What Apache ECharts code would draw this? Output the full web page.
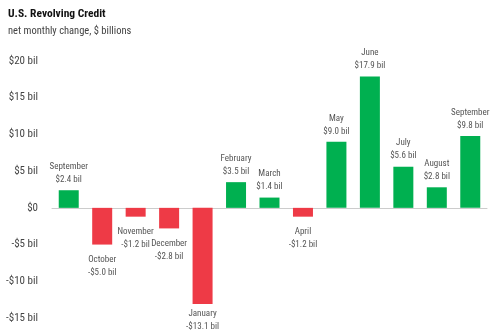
<!DOCTYPE html>
<html>
<head>
<meta charset="utf-8">
<script src="https://cdn.jsdelivr.net/npm/echarts@6/dist/echarts.min.js"></script>
<style>
  html, body { margin: 0; padding: 0; background: #fff; }
  #chart { width: 500px; height: 332px; }
</style>
</head>
<body>
<div id="chart"></div>
<script>
// Monthly net change in U.S. revolving credit, $ billions
const months = ['September', 'October', 'November', 'December', 'January', 'February',
  'March', 'April', 'May', 'June', 'July', 'August', 'September'];
const changes = [2.4, -5.0, -1.2, -2.8, -13.1, 3.5, 1.4, -1.2, 9.0, 17.9, 5.6, 2.8, 9.8];
const yTicks = [-15, -10, -5, 0, 5, 10, 15, 20];

const GREEN = '#00b050';
const RED = '#ee3a46';
const FONT = '"Liberation Sans Narrow", "Roboto Condensed", Roboto, sans-serif';

function money(v) {
  const sign = v < 0 ? '-' : '';
  return sign + '$' + Math.abs(v).toFixed(1) + ' bil';
}
function tickLabel(v) {
  if (v === 0) return '$0';
  return (v < 0 ? '-' : '') + '$' + Math.abs(v) + ' bil';
}

const chart = echarts.init(document.getElementById('chart'), null, { renderer: 'canvas' });

chart.setOption({
  animation: false,
  textStyle: { fontFamily: FONT },
  title: {
    text: 'U.S. Revolving Credit',
    subtext: 'net monthly change, $ billions',
    left: 3,
    top: 3,
    itemGap: 6,
    textStyle: { fontFamily: FONT, fontSize: 11.5, fontWeight: 'bold', color: '#111' },
    subtextStyle: { fontFamily: FONT, fontSize: 10.5, color: '#444' }
  },
  grid: { left: 52, right: 13, top: 61, bottom: 14, containLabel: false },
  xAxis: {
    type: 'category',
    data: months.map((m, i) => i),
    axisLine: { show: true, onZero: true, lineStyle: { color: '#cccccc', width: 1 } },
    axisTick: { show: false },
    axisLabel: { show: false },
    splitLine: { show: false }
  },
  yAxis: {
    type: 'value',
    min: yTicks[0],
    max: yTicks[yTicks.length - 1],
    interval: 5,
    axisLine: { show: false },
    axisTick: { show: false },
    splitLine: { show: false },
    axisLabel: {
      margin: 14,
      fontFamily: FONT,
      fontSize: 11,
      color: '#444',
      formatter: tickLabel
    }
  },
  series: [{
    type: 'bar',
    barWidth: 20,
    data: changes.map(v => ({
      value: v,
      itemStyle: { color: v >= 0 ? GREEN : RED },
      label: {
        show: true,
        position: v >= 0 ? 'top' : 'bottom',
        // the deepest bar keeps its label tucked in above the page edge
        distance: v >= 0 ? 4 : (v < -10 ? 3 : 9)
      }
    })),
    label: {
      fontFamily: FONT,
      fontSize: 9,
      lineHeight: 13,
      color: '#555',
      align: 'center',
      formatter: p => months[p.dataIndex] + '\n' + money(p.value)
    }
  }]
});
</script>
</body>
</html>
